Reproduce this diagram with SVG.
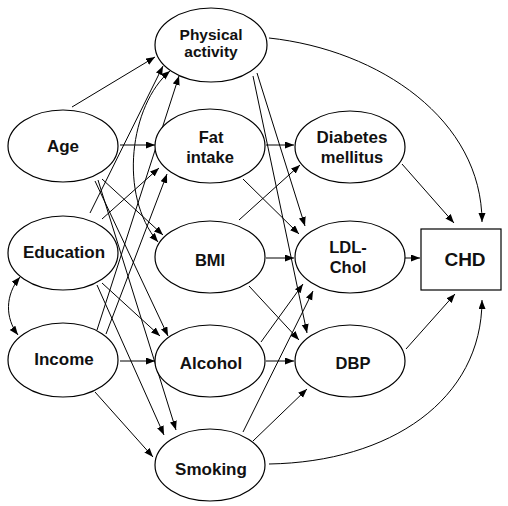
<svg xmlns="http://www.w3.org/2000/svg" width="508" height="506" viewBox="0 0 508 506">
<style>
.n{fill:#fff;stroke:#000;stroke-width:1.2}
.t{font-family:"Liberation Sans",Arial,sans-serif;font-weight:bold;font-size:16.5px;text-anchor:middle;fill:#111}
.e{fill:none;stroke:#000;stroke-width:1}
</style>
<defs>
<marker id="a" markerUnits="userSpaceOnUse" markerWidth="10" markerHeight="8" refX="9" refY="3.5" orient="auto-start-reverse" viewBox="0 0 10 8">
<path d="M0,0 L9,3.5 L0,7 z" fill="#000"/>
</marker>
</defs>
<rect width="508" height="506" fill="#fff"/>
<g id="connectors" class="e" marker-end="url(#a)">
<path d="M72,107 L155,57"/>
<path d="M120,145 L155,145"/>
<path d="M102,179 L163,235"/>
<path d="M95,181 L168,336"/>
<path d="M98,180 L176,430"/>
<path d="M90,213 L163,66"/>
<path d="M102,219 L159,168"/>
<path d="M102,283 L160,336"/>
<path d="M97,285 L164,435"/>
<path d="M97,330 L179,76"/>
<path d="M106,334 L167,174"/>
<path d="M120,361 L155,361"/>
<path d="M95,392 L153,457"/>
<path d="M266,145 L294,145"/>
<path d="M243,179 L299,234"/>
<path d="M257,73 L305,226"/>
<path d="M253,76 L307,333"/>
<path d="M239,220 L300,165"/>
<path d="M266,258 L294,258"/>
<path d="M249,286 L299,340"/>
<path d="M261,342 L303,284"/>
<path d="M266,361 L294,361"/>
<path d="M243,432 L313,291"/>
<path d="M253,441 L307,389"/>
<path d="M402,164 L454,223"/>
<path d="M405,258 L420,258"/>
<path d="M406,349 L455,294"/>
<path d="M269,38 C380,50 482,120 482,222"/>
<path d="M269,464 C390,462 482,400 482,300"/>
<path d="M20,277 C5,295 5,318 18,335" marker-start="url(#a)"/>
<path d="M170,71 C130,105 118,195 158,242" marker-start="url(#a)"/>
</g>
<g id="physical-activity"><ellipse class="n" cx="211" cy="45" rx="56" ry="37"/><text class="t" style="font-size:15.5px" x="211" y="39.5">Physical</text><text class="t" style="font-size:15.5px" x="211" y="57">activity</text></g>
<g id="age"><ellipse class="n" cx="63" cy="146" rx="55" ry="36"/><text class="t" style="font-size:17px" x="63" y="152">Age</text></g>
<g id="education"><ellipse class="n" cx="63" cy="253" rx="55" ry="37"/><text class="t" style="font-size:17px" x="64" y="258">Education</text></g>
<g id="income"><ellipse class="n" cx="63" cy="360" rx="55" ry="37"/><text class="t" style="font-size:17px" x="64" y="365">Income</text></g>
<g id="fat-intake"><ellipse class="n" cx="210" cy="146" rx="55" ry="37"/><text class="t" x="211" y="143">Fat</text><text class="t" x="210" y="163">intake</text></g>
<g id="bmi"><ellipse class="n" cx="210" cy="257" rx="55" ry="36"/><text class="t" x="210" y="266">BMI</text></g>
<g id="alcohol"><ellipse class="n" cx="210" cy="361" rx="55" ry="36"/><text class="t" style="font-size:17px" x="211" y="369">Alcohol</text></g>
<g id="smoking"><ellipse class="n" cx="210" cy="465" rx="55" ry="36"/><text class="t" style="font-size:17px" x="211" y="475">Smoking</text></g>
<g id="diabetes"><ellipse class="n" cx="350" cy="147" rx="55" ry="36"/><text class="t" style="font-size:17px" x="352" y="143">Diabetes</text><text class="t" x="352" y="163">mellitus</text></g>
<g id="ldl-chol"><ellipse class="n" cx="350" cy="257" rx="55" ry="36"/><text class="t" x="348" y="253">LDL-</text><text class="t" x="348" y="273">Chol</text></g>
<g id="dbp"><ellipse class="n" cx="350" cy="361" rx="55" ry="36"/><text class="t" x="353" y="369">DBP</text></g>
<g id="chd"><rect class="n" x="421" y="229" width="80" height="61"/><text class="t" style="font-size:19px" x="465" y="266">CHD</text></g>
</svg>
